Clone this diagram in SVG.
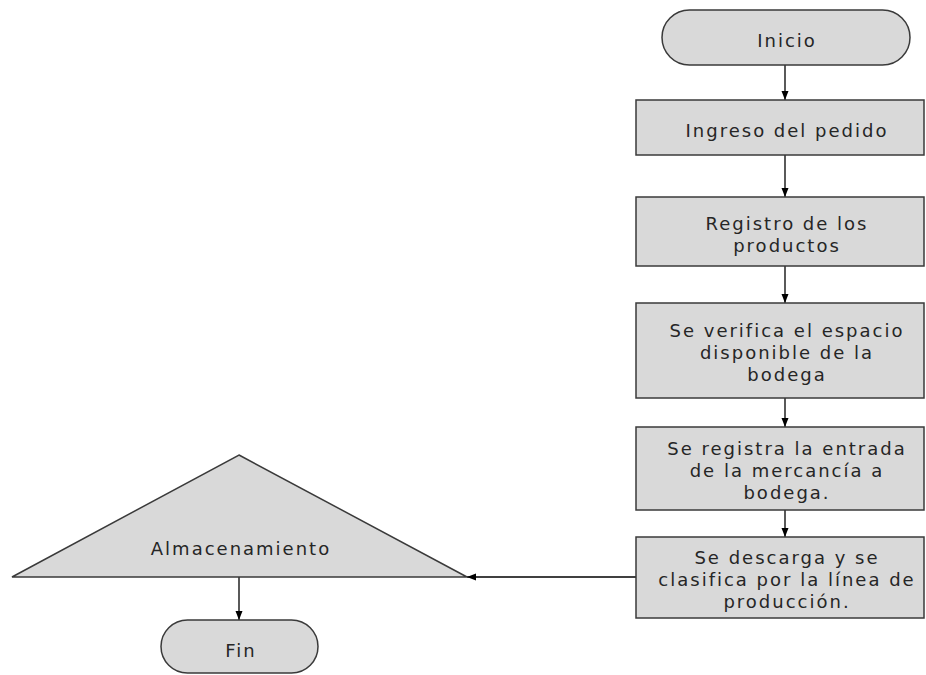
<svg xmlns="http://www.w3.org/2000/svg" width="926" height="675" viewBox="0 0 926 675">
<defs>
<marker id="arr" markerWidth="10" markerHeight="10" refX="9" refY="5" orient="auto" markerUnits="userSpaceOnUse">
<path d="M0,1.5 L9,5 L0,8.5 Z" fill="#000"/>
</marker>
<style>
.n{fill:#d9d9d9;stroke:#3a3a3a;stroke-width:1.5}
.t{font-family:"DejaVu Sans",sans-serif;font-size:18px;letter-spacing:2px;fill:#262626;text-anchor:middle}
.c{stroke:#000;stroke-width:1.3;fill:none}
</style>
</defs>
<rect width="926" height="675" fill="#fff"/>
<g id="connectors">
<line class="c" x1="785" y1="65" x2="785" y2="100" marker-end="url(#arr)"/>
<line class="c" x1="785" y1="155" x2="785" y2="197" marker-end="url(#arr)"/>
<line class="c" x1="785" y1="266" x2="785" y2="303" marker-end="url(#arr)"/>
<line class="c" x1="785" y1="398" x2="785" y2="427" marker-end="url(#arr)"/>
<line class="c" x1="785" y1="510" x2="785" y2="537" marker-end="url(#arr)"/>
<line class="c" x1="636" y1="577" x2="467" y2="577" marker-end="url(#arr)"/>
<line class="c" x1="239" y1="577" x2="239" y2="620" marker-end="url(#arr)"/>
</g>
<g id="inicio">
<rect class="n" x="662" y="10" width="248" height="55" rx="27.5"/>
<text class="t" x="787" y="47">Inicio</text>
</g>
<g id="ingreso">
<rect class="n" x="636" y="100" width="288" height="55"/>
<text class="t" x="787" y="137">Ingreso del pedido</text>
</g>
<g id="registro">
<rect class="n" x="636" y="197" width="288" height="69"/>
<text class="t" x="787" y="230">Registro de los</text>
<text class="t" x="787" y="252">productos</text>
</g>
<g id="verifica">
<rect class="n" x="636" y="303" width="288" height="95"/>
<text class="t" x="787" y="337">Se verifica el espacio</text>
<text class="t" x="787" y="359">disponible de la</text>
<text class="t" x="787" y="381">bodega</text>
</g>
<g id="entrada">
<rect class="n" x="636" y="427" width="288" height="83"/>
<text class="t" x="787" y="455">Se registra la entrada</text>
<text class="t" x="787" y="477">de la mercancía a</text>
<text class="t" x="787" y="499">bodega.</text>
</g>
<g id="descarga">
<rect class="n" x="636" y="537" width="288" height="81"/>
<text class="t" x="787" y="564">Se descarga y se</text>
<text class="t" x="787" y="586">clasifica por la línea de</text>
<text class="t" x="787" y="608">producción.</text>
</g>
<g id="almacenamiento">
<polygon class="n" points="239,455 467,577 12,577"/>
<text class="t" x="241" y="555">Almacenamiento</text>
</g>
<g id="fin">
<rect class="n" x="161" y="620" width="157" height="53" rx="26.5"/>
<text class="t" x="241" y="657">Fin</text>
</g>
</svg>
